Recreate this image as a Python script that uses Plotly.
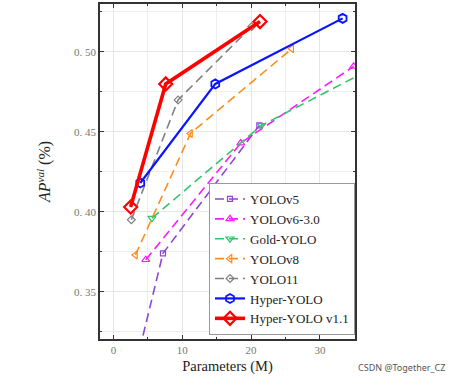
import plotly.graph_objects as go

# Data (Parameters in M, AP)
v5_x = [1.9, 7.2, 21.2]
v5_y = [0.280, 0.374, 0.454]
v6_x = [4.7, 18.5, 34.9]
v6_y = [0.370, 0.443, 0.491]
gold_x = [5.6, 21.5, 41.3]
gold_y = [0.396, 0.454, 0.498]
v8_x = [3.2, 11.2, 25.9]
v8_y = [0.373, 0.449, 0.502]
y11_x = [2.6, 9.4, 20.1]
y11_y = [0.395, 0.470, 0.516]
hy_x = [3.9, 14.8, 33.3]
hy_y = [0.418, 0.480, 0.521]
hy11_x = [2.5, 7.6, 21.3]
hy11_y = [0.403, 0.480, 0.519]

x_ticks = [0, 10, 20, 30]
y_ticks = [0.35, 0.40, 0.45, 0.50]
y_ticklabels = ["0. 35", "0. 40", "0. 45", "0. 50"]

series = [
    ("YOLOv5", v5_x, v5_y, "#9146d2", "square-open", 5, "dash", 1.6),
    ("YOLOv6-3.0", v6_x, v6_y, "#ff1aff", "triangle-up-open", 7, "dash", 1.6),
    ("Gold-YOLO", gold_x, gold_y, "#33c46a", "triangle-down-open", 7, "dash", 1.6),
    ("YOLOv8", v8_x, v8_y, "#ff8c1a", "triangle-left-open", 7, "dash", 1.6),
    ("YOLO11", y11_x, y11_y, "#808080", "diamond-open", 6, "dash", 1.6),
    ("Hyper-YOLO", hy_x, hy_y, "#0a14ff", "hexagon-open", 9, "solid", 2.2),
    ("Hyper-YOLO v1.1", hy11_x, hy11_y, "#ff0000", "diamond-open", 10, "solid", 3.6),
]

fig = go.Figure()
for name, xs, ys, col, sym, sz, dash, lw in series:
    fig.add_trace(go.Scatter(
        x=xs, y=ys, name=name, mode="lines+markers",
        line=dict(color=col, width=lw, dash="9px,5px" if dash == "dash" else "solid"),
        marker=dict(symbol=sym, size=sz, color=col,
                    line=dict(width=2.2 if lw > 3 else (1.8 if lw > 2 else 1.2), color=col)),
        cliponaxis=True,
    ))

axis_common = dict(
    showline=True, linecolor="#333333", linewidth=1.5, mirror="ticks",
    ticks="inside", ticklen=4, tickcolor="#333333",
    showgrid=True, gridcolor="#e6e6e6", gridwidth=1,
    zeroline=False, automargin=False,
    tickfont=dict(family="Liberation Serif", size=11, color="#777777"),
)

fig.update_xaxes(
    range=[-1.95, 35.1], tickvals=x_ticks,
    minor=dict(dtick=5, showgrid=True, gridcolor="#eeeeee", ticks="inside", ticklen=2, tickcolor="#333333"),
    title=dict(text="Parameters (M)", font=dict(family="Liberation Serif", size=14.5, color="#222222"), standoff=6),
    **axis_common,
)
fig.update_yaxes(
    range=[0.3204, 0.530], tickvals=y_ticks, ticktext=y_ticklabels,
    minor=dict(dtick=0.025, tick0=0, showgrid=True, gridcolor="#eeeeee", ticks="inside", ticklen=2, tickcolor="#333333"),
    title=dict(text="<i>AP</i><sup><i>val</i></sup> (%)", font=dict(family="Liberation Serif", size=16, color="#222222"), standoff=19),
    **axis_common,
)

fig.update_layout(
    width=457, height=384,
    margin=dict(l=100, r=102, t=4, b=45, autoexpand=False),
    paper_bgcolor="white", plot_bgcolor="white",
    showlegend=True,
    legend=dict(
        x=1, xanchor="right", y=0.012, yanchor="bottom",
        bgcolor="white", bordercolor="#999999", borderwidth=1,
        font=dict(family="Liberation Serif", size=13, color="#222222"),
        tracegroupgap=0, itemwidth=30,
    ),
    annotations=[dict(
        text="CSDN @Together_CZ", xref="paper", yref="paper",
        x=1.0, y=0, xanchor="right", yanchor="middle", showarrow=False,
        xshift=92, yshift=-28,
        font=dict(family="Noto Sans", size=9, color="#555555"),
    )],
)

fig.write_html("out.html", config={"displayModeBar": False},
               post_script="document.body.style.margin='0px';")
